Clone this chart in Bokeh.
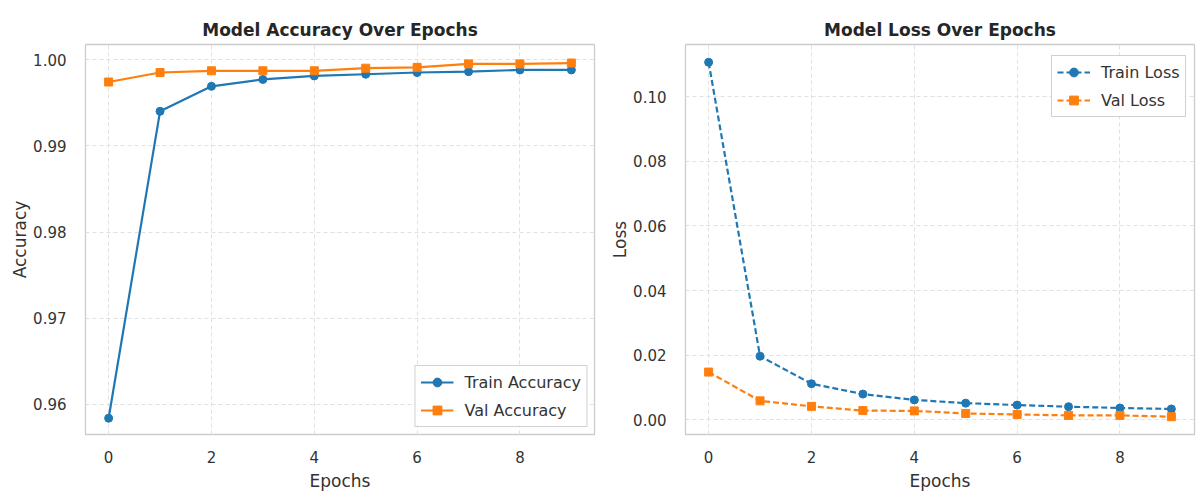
from bokeh.plotting import figure
from bokeh.layouts import row
from bokeh.models import Legend, LegendItem, FixedTicker, CustomJSTickFormatter
from bokeh.embed import file_html
from bokeh.resources import INLINE

epochs = [0, 1, 2, 3, 4, 5, 6, 7, 8, 9]
train_acc = [0.9584, 0.9940, 0.9969, 0.9977, 0.9981, 0.9983, 0.9985, 0.9986, 0.9988, 0.9988]
val_acc = [0.9974, 0.9985, 0.9987, 0.9987, 0.9987, 0.9990, 0.9991, 0.9995, 0.9995, 0.9996]
train_loss = [0.1106, 0.0197, 0.0112, 0.0080, 0.0062, 0.0052, 0.0046, 0.0041, 0.0037, 0.0034]
val_loss = [0.0148, 0.0059, 0.0042, 0.0029, 0.0028, 0.0020, 0.0017, 0.0014, 0.0014, 0.0010]
x_ticks = [0, 2, 4, 6, 8]
acc_ticks = [0.96, 0.97, 0.98, 0.99, 1.00]
loss_ticks = [0.00, 0.02, 0.04, 0.06, 0.08, 0.10]

BLUE = "#1f77b4"
ORANGE = "#ff7f0e"
FONT = "DejaVu Sans"


def make_fig(width, left, right, title, ylabel, yrange, yticks):
    p = figure(width=width, height=496, output_backend="svg", toolbar_location=None,
               x_range=(-0.45, 9.45), y_range=yrange,
               min_border_left=left, min_border_right=right,
               min_border_top=44, min_border_bottom=62)
    p.title.text = title
    p.title.align = "center"
    p.title.text_font = FONT
    p.title.text_font_size = "17px"
    p.title.text_font_style = "bold"
    p.title.text_color = "#262626"
    p.outline_line_color = "#cccccc"
    p.outline_line_width = 1.3
    p.background_fill_color = "white"
    p.border_fill_color = "white"
    for ax in (p.xaxis[0], p.yaxis[0]):
        ax.axis_line_color = None
        ax.major_tick_line_color = None
        ax.minor_tick_line_color = None
        ax.major_label_text_font = FONT
        ax.major_label_text_font_size = "15px"
        ax.major_label_text_color = "#333333"
        ax.axis_label_text_font = FONT
        ax.axis_label_text_font_size = "17px"
        ax.axis_label_text_font_style = "normal"
        ax.axis_label_text_color = "#333333"
    p.xaxis.ticker = FixedTicker(ticks=x_ticks)
    p.yaxis.ticker = FixedTicker(ticks=yticks)
    p.yaxis.formatter = CustomJSTickFormatter(code="return tick.toFixed(2);")
    p.xaxis.major_label_standoff = 10
    p.yaxis.major_label_standoff = 13
    p.xaxis.axis_label = "Epochs"
    p.yaxis.axis_label = ylabel
    p.xaxis.axis_label_standoff = 5
    p.yaxis.axis_label_standoff = 0
    for g in (p.xgrid[0], p.ygrid[0]):
        g.grid_line_color = "#e0e0e0"
        g.grid_line_dash = "4 3"
        g.grid_line_width = 1
    return p


p1 = make_fig(600, 85, 6, "Model Accuracy Over Epochs", "Accuracy",
              (0.95651, 1.00175), acc_ticks)
l1 = p1.line(epochs, train_acc, color=BLUE, line_width=2.2)
m1 = p1.scatter(epochs, train_acc, marker="circle", size=8, color=BLUE)
l2 = p1.line(epochs, val_acc, color=ORANGE, line_width=2.2)
m2 = p1.scatter(epochs, val_acc, marker="square", size=8, color=ORANGE)
leg1 = Legend(items=[LegendItem(label="Train Accuracy", renderers=[l1, m1]),
                     LegendItem(label="Val Accuracy", renderers=[l2, m2])],
              location="bottom_right", margin=7)

p2 = make_fig(598, 85, 4, "Model Loss Over Epochs", "Loss",
              (-0.0045, 0.1161), loss_ticks)
l3 = p2.line(epochs, train_loss, color=BLUE, line_width=2.2, line_dash="6 3")
m3 = p2.scatter(epochs, train_loss, marker="circle", size=8, color=BLUE)
l4 = p2.line(epochs, val_loss, color=ORANGE, line_width=2.2, line_dash="6 3")
m4 = p2.scatter(epochs, val_loss, marker="square", size=8, color=ORANGE)
leg2 = Legend(items=[LegendItem(label="Train Loss", renderers=[l3, m3]),
                     LegendItem(label="Val Loss", renderers=[l4, m4])],
              location=(366, 317), margin=0)

for p, leg in ((p1, leg1), (p2, leg2)):
    leg.label_text_font = FONT
    leg.label_text_font_size = "16px"
    leg.label_text_color = "#333333"
    leg.border_line_color = "#d0d0d0"
    leg.border_line_alpha = 1
    leg.background_fill_alpha = 0.9
    leg.glyph_width = 33
    leg.glyph_height = 22
    leg.label_height = 22
    leg.label_standoff = 11
    leg.spacing = 6
    leg.padding = 5
    p.add_layout(leg, "center")

layout = row(p1, p2, spacing=0)
open("out.html", "w").write(file_html(layout, INLINE))
